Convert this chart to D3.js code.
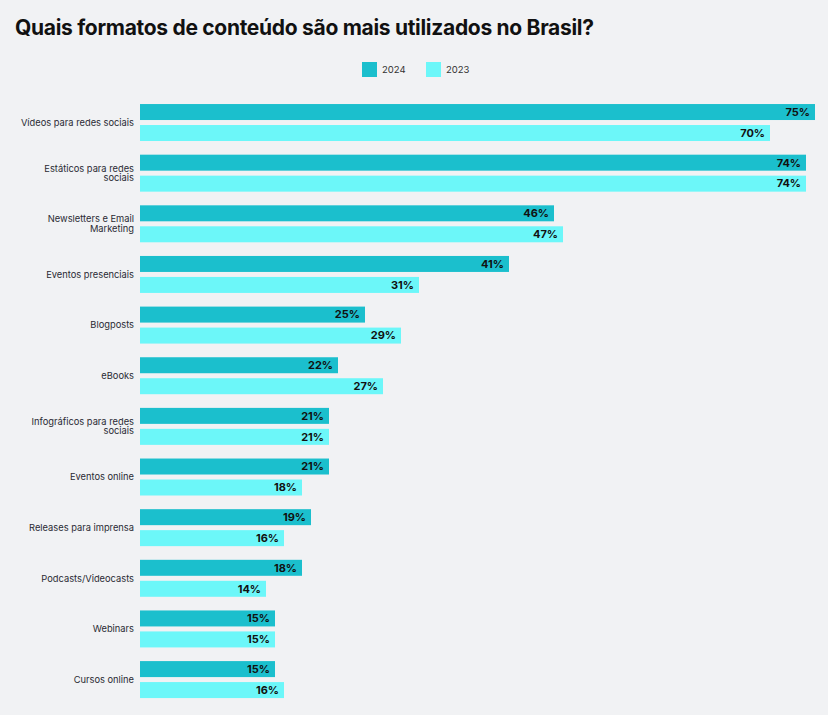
<!DOCTYPE html>
<html>
<head>
<meta charset="UTF-8">
<title>Formatos de conteúdo</title>
<script src="https://cdn.jsdelivr.net/npm/d3@7"></script>
<style>
  body { margin: 0; background: #f1f2f4; }
  svg { display: block; font-family: Inter, "DejaVu Sans", sans-serif; }
</style>
</head>
<body>
<svg id="chart" width="828" height="715"></svg>
<script>
var categories = [
  "Vídeos para redes sociais",
  "Estáticos para redes sociais",
  "Newsletters e Email Marketing",
  "Eventos presenciais",
  "Blogposts",
  "eBooks",
  "Infográficos para redes sociais",
  "Eventos online",
  "Releases para imprensa",
  "Podcasts/Videocasts",
  "Webinars",
  "Cursos online"
]
// labels broken where the original wraps them
var labelLines = [
  ["Vídeos para redes sociais"],
  ["Estáticos para redes", "sociais"],
  ["Newsletters e Email", "Marketing"],
  ["Eventos presenciais"],
  ["Blogposts"],
  ["eBooks"],
  ["Infográficos para redes", "sociais"],
  ["Eventos online"],
  ["Releases para imprensa"],
  ["Podcasts/Videocasts"],
  ["Webinars"],
  ["Cursos online"]
]
var years = ["2024", "2023"]
var values2024 = [75, 74, 46, 41, 25, 22, 21, 21, 19, 18, 15, 15]
var values2023 = [70, 74, 47, 31, 29, 27, 21, 18, 16, 14, 15, 16]
var colors = ["#1bbfcd", "#6cf7f9"]

var svg = d3.select("#chart")

svg.append("rect").attr("width", 828).attr("height", 715).attr("fill", "#f1f2f4")

svg.append("text")
  .attr("x", 15).attr("y", 35)
  .attr("font-size", 21).attr("font-weight", 700)
  .attr("fill", "#111")
  .attr("letter-spacing", -0.3)
  .text("Quais formatos de conteúdo são mais utilizados no Brasil?")

// legend
var legend = svg.append("g")
var legendX = [362, 426]
years.forEach(function (y, i) {
  legend.append("rect")
    .attr("x", legendX[i]).attr("y", 62)
    .attr("width", 15).attr("height", 15)
    .attr("fill", colors[i])
  legend.append("text")
    .attr("x", legendX[i] + 20).attr("y", 73)
    .attr("font-size", 9.5).attr("fill", "#333")
    .text(y)
})

var x = d3.scaleLinear().domain([0, 75]).range([140, 815])
var y = d3.scaleBand().domain(categories).range([97.2, 704.9])
  .paddingInner(0.27).paddingOuter(0.135)
var ySub = d3.scaleBand().domain(years).range([0, y.bandwidth()])
  .paddingInner(5 / 21).paddingOuter(0)

var rows = categories.map(function (c, i) {
  return { cat: c, lines: labelLines[i], vals: [values2024[i], values2023[i]] }
})

var groups = svg.selectAll(".group").data(rows).enter().append("g")
  .attr("class", "group")
  .attr("transform", function (d) { return "translate(0," + y(d.cat) + ")" })

groups.each(function (d) {
  var g = d3.select(this)
  years.forEach(function (yr, i) {
    g.append("rect")
      .attr("x", x(0)).attr("y", ySub(yr))
      .attr("width", x(d.vals[i]) - x(0))
      .attr("height", ySub.bandwidth())
      .attr("fill", colors[i])
    g.append("text")
      .attr("x", x(d.vals[i]) - 5)
      .attr("y", ySub(yr) + ySub.bandwidth() / 2)
      .attr("dy", "0.35em")
      .attr("text-anchor", "end")
      .attr("font-size", 11).attr("font-weight", 700)
      .attr("fill", "#111")
      .text(d.vals[i] + "%")
  })
  var mid = y.bandwidth() / 2
  var lh = 9.6
  var t = g.append("text")
    .attr("text-anchor", "end")
    .attr("font-size", 9.3).attr("fill", "#2a2a33")
  d.lines.forEach(function (line, k) {
    t.append("tspan")
      .attr("x", 134)
      .attr("y", mid + (k - (d.lines.length - 1) / 2) * lh)
      .attr("dy", "0.35em")
      .text(line)
  })
})
</script>
</body>
</html>
